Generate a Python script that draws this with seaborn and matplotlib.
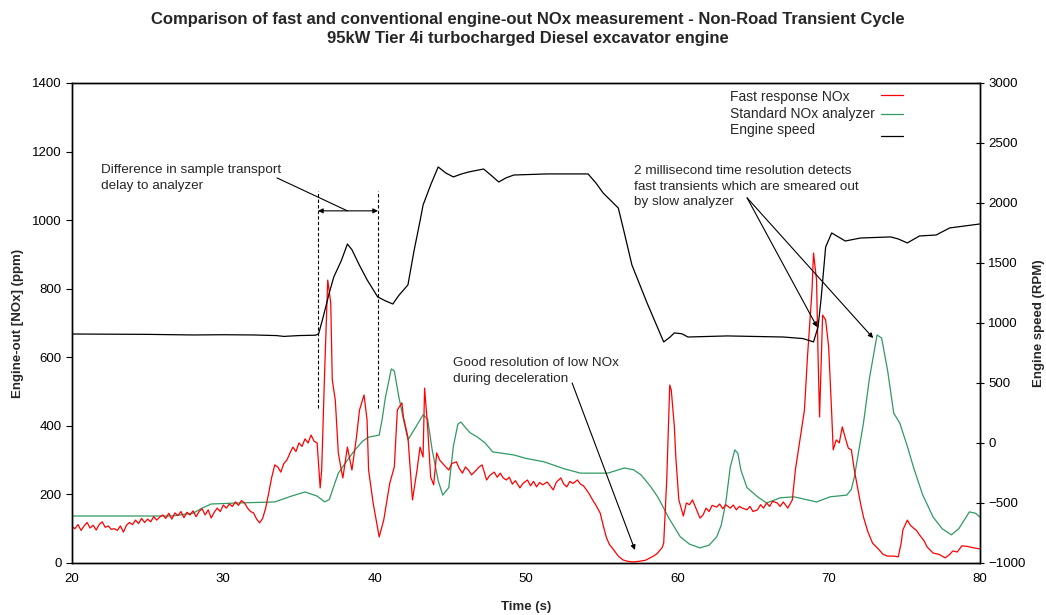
import matplotlib
matplotlib.use('Agg')
import matplotlib.pyplot as plt
import seaborn as sns
import pandas as pd

# Fast response NOx (ppm)
fast_t = [20.0, 20.2, 20.4, 20.6, 20.8, 21.0, 21.2, 21.4, 21.6, 21.8, 22.0, 22.2, 22.4, 22.6, 22.8,
          23.0, 23.2, 23.4, 23.6, 23.8, 24.0, 24.2, 24.4, 24.6, 24.8, 25.0, 25.2, 25.4, 25.6, 25.8,
          26.0, 26.2, 26.4, 26.6, 26.8, 27.0, 27.2, 27.4, 27.6, 27.8, 28.0, 28.2, 28.4, 28.6, 28.8,
          29.0, 29.2, 29.4, 29.6, 29.8, 30.0, 30.2, 30.4, 30.6, 30.8, 31.0, 31.2, 31.4, 31.6, 31.8,
          32.0, 32.2, 32.4, 32.6, 32.8, 33.0, 33.2, 33.4, 33.6, 33.8, 34.0, 34.2, 34.4, 34.6, 34.8,
          35.0, 35.2, 35.4, 35.6, 35.8, 36.0, 36.2, 36.4, 36.5, 36.7, 36.9, 37.1, 37.2, 37.4, 37.6,
          37.8, 37.9, 38.2, 38.5, 38.8, 39.0, 39.3, 39.5, 39.6, 39.9, 40.3, 40.6, 41.0, 41.3, 41.5,
          41.8, 41.9, 42.2, 42.5, 42.8, 43.0, 43.2, 43.3, 43.5, 43.7, 43.9, 44.1, 44.3, 44.6, 44.9,
          45.1, 45.4, 45.6, 45.8, 46.0, 46.2, 46.4, 46.7, 46.9, 47.1, 47.4, 47.6, 47.9, 48.1, 48.3,
          48.5, 48.7, 48.9, 49.1, 49.3, 49.6, 49.8, 50.1, 50.3, 50.5, 50.7, 50.9, 51.1, 51.4, 51.6,
          51.8, 52.0, 52.3, 52.5, 52.7, 52.9, 53.1, 53.4, 53.6, 53.8, 54.0, 54.2, 54.4, 54.6, 54.9,
          55.1, 55.3, 55.5, 55.8, 56.1, 56.4, 56.7, 57.1, 57.5, 57.9, 58.2, 58.5, 58.7, 59.0, 59.1,
          59.3, 59.5, 59.6, 59.8, 59.9, 60.1, 60.4, 60.6, 60.8, 61.0, 61.2, 61.5, 61.7, 61.9, 62.1,
          62.3, 62.6, 62.8, 63.0, 63.2, 63.5, 63.7, 63.9, 64.1, 64.3, 64.6, 64.8, 65.0, 65.3, 65.5,
          65.7, 65.9, 66.1, 66.3, 66.6, 66.8, 67.0, 67.3, 67.6, 67.8, 68.1, 68.4, 68.6, 68.9, 69.0,
          69.2, 69.3, 69.4, 69.5, 69.6, 69.8, 70.0, 70.2, 70.3, 70.5, 70.7, 70.9, 71.1, 71.3, 71.5,
          71.7, 71.9, 72.1, 72.3, 72.6, 72.9, 73.3, 73.6, 73.9, 74.3, 74.6, 74.8, 74.9, 75.2, 75.4,
          75.6, 75.8, 76.0, 76.3, 76.5, 76.7, 76.9, 77.3, 77.7, 78.0, 78.2, 78.5, 78.8, 79.2, 79.6,
          80.0]
fast_nox = [106, 100, 112, 95, 108, 118, 102, 110, 96, 112, 120, 104, 108, 98, 100,
            95, 108, 90, 110, 118, 112, 125, 115, 130, 118, 128, 120, 135, 125, 134,
            140, 130, 145, 128, 146, 138, 150, 132, 148, 140, 152, 135, 150, 158, 140,
            155, 131, 148, 160, 150, 169, 160, 172, 165, 178, 168, 182, 175, 160, 150,
            146, 128, 117, 130, 160, 204, 250, 286, 280, 265, 290, 300, 320, 338, 325,
            350, 340, 362, 350, 373, 355, 350, 219, 271, 563, 825, 758, 534, 475, 321,
            270, 248, 338, 271, 367, 446, 490, 417, 271, 175, 76, 125, 233, 280, 446,
            467, 426, 367, 184, 271, 338, 309, 510, 397, 251, 228, 321, 300, 285, 271,
            290, 295, 275, 262, 280, 271, 257, 270, 280, 286, 242, 255, 265, 250, 262,
            248, 242, 250, 230, 240, 219, 232, 242, 225, 238, 222, 235, 228, 236, 225,
            213, 235, 248, 230, 222, 238, 232, 242, 230, 225, 213, 200, 184, 170, 146,
            110, 76, 55, 38, 20, 9, 5, 3, 5, 8, 15, 22, 29, 45, 58,
            242, 519, 504, 400, 309, 184, 137, 175, 170, 184, 163, 131, 140, 160, 150,
            168, 163, 172, 158, 170, 160, 169, 155, 165, 160, 155, 165, 150, 155, 170,
            160, 175, 165, 180, 175, 165, 178, 160, 184, 271, 359, 446, 601, 796, 904,
            825, 601, 426, 572, 723, 709, 630, 437, 330, 359, 350, 397, 365, 335, 330,
            270, 222, 175, 134, 90, 58, 40, 25, 20, 20, 18, 60, 96, 125, 110,
            102, 95, 82, 65, 47, 38, 29, 25, 15, 25, 35, 32, 50, 48, 44,
            41]

# Standard NOx analyzer (ppm)
std_t = [20.0, 26.6, 28.0, 28.6, 29.2, 31.0, 33.4, 34.5, 35.4, 36.2, 36.7, 37.0, 37.6, 38.2, 38.7,
         39.2, 39.6, 40.3, 40.5, 40.7, 41.1, 41.3, 41.6, 41.9, 42.2, 42.7, 43.2, 43.5, 43.8, 44.2,
         44.5, 44.9, 45.2, 45.5, 45.7, 46.0, 46.3, 46.8, 47.3, 47.8, 49.2, 50.0, 51.2, 52.5, 53.6,
         55.4, 56.5, 57.1, 57.6, 58.2, 58.7, 59.1, 59.4, 59.8, 60.2, 60.8, 61.5, 62.1, 62.6, 62.9,
         63.2, 63.5, 63.8, 64.0, 64.2, 64.6, 65.3, 65.9, 66.8, 67.7, 68.5, 69.2, 70.1, 71.2, 71.5,
         71.7, 72.0, 72.3, 72.7, 73.2, 73.5, 73.9, 74.3, 74.7, 75.2, 75.6, 76.2, 76.9, 77.5, 78.1,
         78.6, 79.3, 79.7, 80.0]
std_nox = [137, 137, 145, 160, 172, 175, 178, 195, 207, 195, 178, 185, 262, 300, 330,
           355, 367, 373, 420, 480, 566, 560, 484, 420, 359, 395, 432, 420, 330, 240,
           198, 220, 340, 405, 411, 395, 380, 367, 350, 324, 315, 305, 295, 275, 262,
           262, 277, 272, 257, 225, 193, 160, 134, 105, 76, 55, 44, 52, 76, 110,
           175, 280, 330, 320, 271, 220, 193, 175, 190, 193, 185, 178, 193, 198, 215,
           251, 330, 408, 540, 665, 656, 560, 437, 408, 340, 280, 200, 134, 100, 82,
           100, 149, 145, 134]

# Engine speed (RPM)
speed_t = [20.0, 25.0, 28.0, 30.0, 32.0, 33.5, 34.0, 35.0, 36.1, 36.3, 36.6, 37.0, 37.3, 37.8, 38.2,
           38.5, 39.0, 39.5, 40.2, 40.7, 41.2, 41.6, 42.2, 42.6, 43.0, 43.2, 43.7, 44.2, 44.7, 45.2,
           45.7, 46.2, 47.2, 47.7, 48.2, 48.7, 49.2, 51.4, 54.1, 54.6, 55.1, 56.1, 56.5, 57.0, 58.0,
           59.1, 59.5, 59.8, 60.3, 60.7, 63.3, 67.0, 68.3, 69.0, 69.3, 69.5, 69.8, 70.2, 70.6, 71.1,
           72.1, 74.1, 74.6, 75.2, 76.0, 77.1, 78.0, 80.0]
speed_rpm = [908, 905, 900, 902, 900, 895, 888, 895, 898, 910, 1050, 1250, 1383, 1520, 1658,
             1610, 1480, 1360, 1217, 1185, 1158, 1230, 1317, 1600, 1850, 1983, 2150, 2300, 2250, 2217,
             2240, 2258, 2283, 2230, 2175, 2210, 2233, 2242, 2242, 2170, 2083, 1958, 1750, 1483, 1167,
             842, 880, 917, 910, 883, 892, 883, 870, 842, 967, 1200, 1633, 1750, 1720, 1683,
             1708, 1717, 1700, 1667, 1725, 1733, 1792, 1825]

nox_ticks = [0, 200, 400, 600, 800, 1000, 1200, 1400]
rpm_ticks = [-1000, -500, 0, 500, 1000, 1500, 2000, 2500, 3000]
time_ticks = [20, 30, 40, 50, 60, 70, 80]
series_names = ['Fast response NOx', 'Standard NOx analyzer', 'Engine speed']

RED = '#ff0000'
GREEN = '#2f9a62'

sns.set_style('white')
plt.rcParams['font.family'] = ['Liberation Sans', 'DejaVu Sans']
plt.rcParams['font.size'] = 9

fast_df = pd.DataFrame({'t': fast_t, 'v': fast_nox})
std_df = pd.DataFrame({'t': std_t, 'v': std_nox})
speed_df = pd.DataFrame({'t': speed_t, 'v': speed_rpm})

fig = plt.figure(figsize=(10.46, 6.15), dpi=100)
ax = fig.add_axes([0.0688, 0.0846, 0.8681, 0.7805])
ax2 = ax.twinx()

sns.lineplot(data=std_df, x='t', y='v', ax=ax, color=GREEN, lw=0.9, legend=False)
sns.lineplot(data=fast_df, x='t', y='v', ax=ax, color=RED, lw=0.9, legend=False)
sns.lineplot(data=speed_df, x='t', y='v', ax=ax2, color='black', lw=0.9, legend=False)

ax.set_xlim(20, 80)
ax.set_ylim(0, 1400)
ax2.set_ylim(-1000, 3000)
ax.set_xticks(time_ticks)
ax.set_yticks(nox_ticks)
ax2.set_yticks(rpm_ticks)

ax.set_xlabel('Time (s)', fontweight='bold', fontsize=9.5, labelpad=12)
ax.set_ylabel('Engine-out [NOx] (ppm)', fontweight='bold', fontsize=9.5, labelpad=6)
ax2.set_ylabel('Engine speed (RPM)', fontweight='bold', fontsize=9.5, labelpad=5)

for a in (ax, ax2):
    for s in a.spines.values():
        s.set_color('black')
        s.set_linewidth(1.0)
ax.tick_params(axis='both', direction='out', length=4, width=0.8, labelsize=9.5, colors='black')
ax.tick_params(axis='x', pad=3)
ax2.tick_params(axis='y', direction='inout', length=6, width=0.8, labelsize=9.5, colors='black', pad=3)

# dashed markers for the transport delay
t_fast, t_std = 36.26, 40.22
ax.plot([t_fast, t_fast], [452, 1085], ls='--', color='black', lw=0.8, dashes=(3, 2))
ax.plot([t_std, t_std], [452, 1085], ls='--', color='black', lw=0.8, dashes=(3, 2))
ax.annotate('', xy=(t_fast, 1027), xytext=(t_std, 1027),
            arrowprops=dict(arrowstyle='<|-|>', color='black', lw=0.8, mutation_scale=7,
                            shrinkA=0, shrinkB=0))
ax.plot([33.55, 38.2], [1123, 1027], color='black', lw=0.8)
ax.text(21.95, 1123, 'Difference in sample transport\ndelay to analyzer', fontsize=9.7,
        va='center', ha='left', linespacing=1.4)

# low NOx annotation
ax.text(45.18, 560, 'Good resolution of low NOx\nduring deceleration', fontsize=9.7,
        va='center', ha='left', linespacing=1.4)
ax.annotate('', xy=(57.2, 38), xytext=(53.05, 525),
            arrowprops=dict(arrowstyle='-|>', color='black', lw=0.8, mutation_scale=7,
                            shrinkA=0, shrinkB=0))

# fast transient annotation
ax.text(57.14, 1097, '2 millisecond time resolution detects\nfast transients which are smeared out\nby slow analyzer',
        fontsize=9.7, va='center', ha='left', linespacing=1.4)
for end in [(69.24, 688), (72.94, 656)]:
    ax.annotate('', xy=end, xytext=(64.61, 1065),
                arrowprops=dict(arrowstyle='-|>', color='black', lw=0.8, mutation_scale=7,
                                shrinkA=0, shrinkB=0))

# legend: labels left aligned, sample line to the right (as in the original)
leg_colors = [RED, GREEN, 'black']
leg_text_y = [0.971, 0.936, 0.901]
leg_line_y = [0.974, 0.935, 0.890]
for name, c, ty, ly in zip(series_names, leg_colors, leg_text_y, leg_line_y):
    ax2.text(0.7247, ty, name, transform=ax2.transAxes, fontsize=10, va='center', ha='left')
    ax2.plot([0.891, 0.915], [ly, ly], transform=ax2.transAxes, color=c, lw=0.9)

fig.text(0.505, 0.981, 'Comparison of fast and conventional engine-out NOx measurement - Non-Road Transient Cycle\n'
         '95kW Tier 4i turbocharged Diesel excavator engine',
         fontsize=12, fontweight='bold', ha='center', va='top', linespacing=1.35)

fig.savefig('out.png', dpi=100)
